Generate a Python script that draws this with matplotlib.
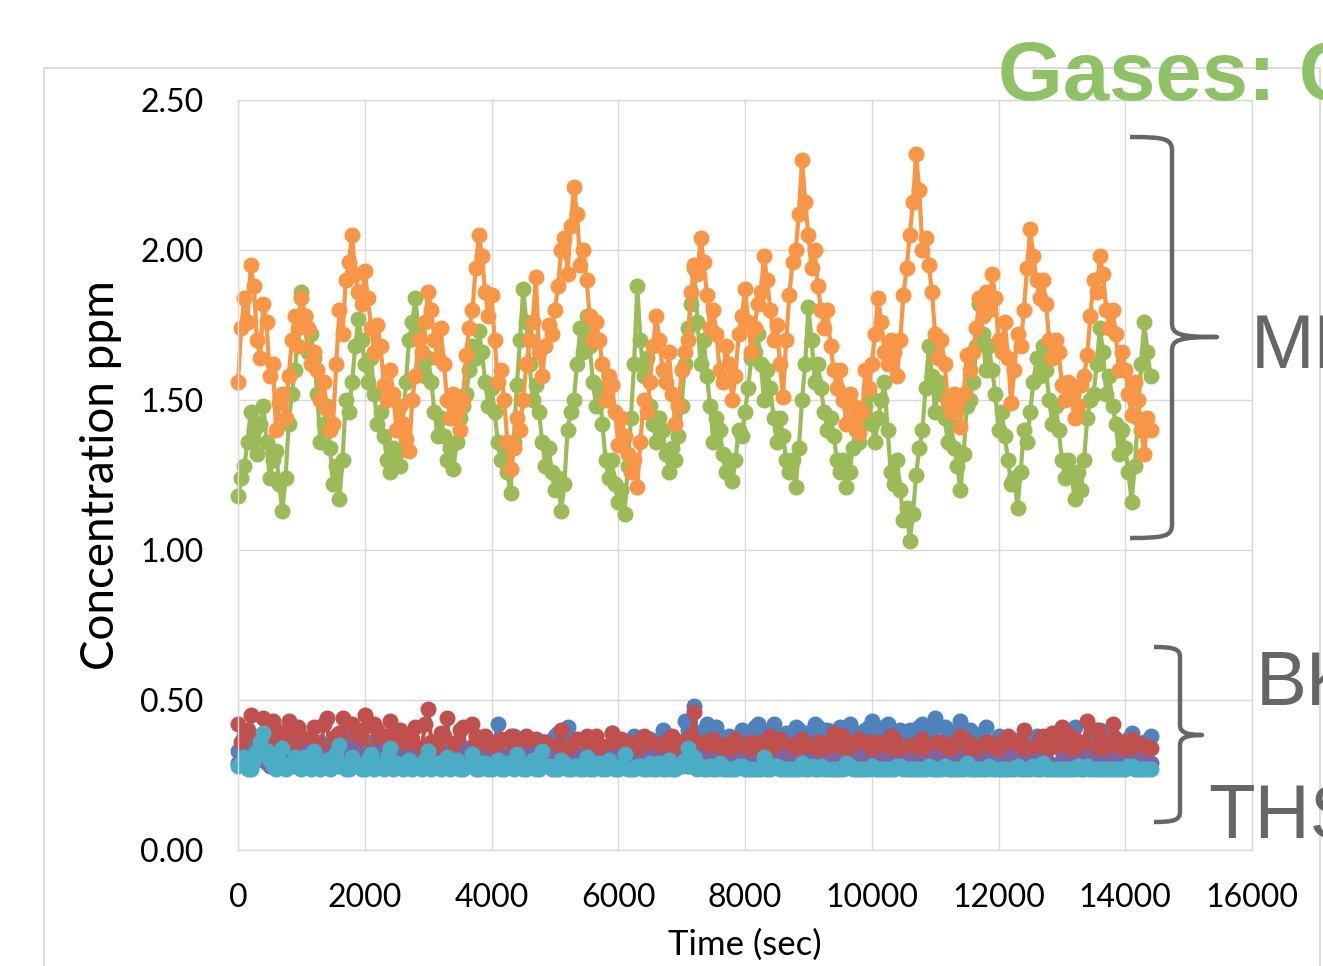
import numpy as np
import matplotlib
matplotlib.use("Agg")
import matplotlib.pyplot as plt
import matplotlib.patches as patches
from matplotlib.path import Path

# readings every 100 s, plus the in-between readings at 50, 150, ... s
time_s = list(range(0, 14401, 100))
time_mid_s = list(range(50, 14400, 100))

# values (ppm)
orange = [1.56, 1.84, 1.95, 1.70, 1.82, 1.58, 1.40, 1.52, 1.58, 1.78,
          1.84, 1.74, 1.66, 1.50, 1.47, 1.42, 1.80, 1.90, 2.05, 1.86,
          1.93, 1.74, 1.75, 1.55, 1.60, 1.40, 1.42, 1.33, 1.58, 1.66,
          1.86, 1.70, 1.74, 1.50, 1.52, 1.40, 1.65, 1.80, 2.05, 1.86,
          1.85, 1.56, 1.50, 1.27, 1.44, 1.50, 1.70, 1.91, 1.58, 1.75,
          1.80, 2.00, 1.92, 2.21, 1.95, 1.90, 1.70, 1.70, 1.50, 1.55,
          1.35, 1.38, 1.26, 1.21, 1.50, 1.56, 1.78, 1.60, 1.66, 1.42,
          1.60, 1.70, 1.95, 2.04, 1.85, 1.80, 1.60, 1.68, 1.50, 1.72,
          1.87, 1.66, 1.82, 1.98, 1.80, 1.75, 1.51, 1.85, 2.00, 2.30,
          2.05, 2.00, 1.80, 1.80, 1.60, 1.60, 1.42, 1.48, 1.39, 1.60,
          1.62, 1.84, 1.66, 1.70, 1.58, 1.85, 2.05, 2.32, 2.00, 1.95,
          1.72, 1.70, 1.50, 1.52, 1.41, 1.65, 1.66, 1.84, 1.86, 1.92,
          1.70, 1.76, 1.49, 1.72, 1.80, 2.07, 1.90, 1.90, 1.70, 1.70,
          1.55, 1.56, 1.44, 1.55, 1.65, 1.90, 1.98, 1.80, 1.80, 1.60,
          1.60, 1.45, 1.50, 1.32, 1.40]
orange_mid = [1.74, 1.76, 1.88, 1.64, 1.76, 1.62, 1.49, 1.44, 1.70, 1.68,
              1.78, 1.62, 1.60, 1.56, 1.40, 1.62, 1.72, 1.96, 1.92, 1.82,
              1.84, 1.66, 1.68, 1.50, 1.52, 1.48, 1.37, 1.50, 1.70, 1.76,
              1.80, 1.64, 1.62, 1.44, 1.46, 1.50, 1.74, 1.94, 1.98, 1.78,
              1.70, 1.60, 1.36, 1.34, 1.40, 1.62, 1.76, 1.66, 1.68, 1.72,
              1.88, 2.04, 2.08, 2.12, 2.00, 1.78, 1.76, 1.62, 1.58, 1.46,
              1.44, 1.32, 1.30, 1.36, 1.46, 1.68, 1.70, 1.56, 1.52, 1.48,
              1.66, 1.86, 1.92, 1.96, 1.74, 1.72, 1.56, 1.62, 1.58, 1.78,
              1.76, 1.74, 1.86, 1.90, 1.70, 1.62, 1.70, 1.96, 2.12, 2.16,
              1.94, 1.88, 1.74, 1.68, 1.54, 1.50, 1.52, 1.44, 1.46, 1.54,
              1.72, 1.76, 1.62, 1.66, 1.70, 1.94, 2.16, 2.20, 2.04, 1.86,
              1.64, 1.62, 1.46, 1.50, 1.52, 1.60, 1.74, 1.78, 1.80, 1.84,
              1.66, 1.64, 1.60, 1.68, 1.94, 1.98, 1.84, 1.82, 1.64, 1.66,
              1.50, 1.52, 1.48, 1.58, 1.78, 1.86, 1.92, 1.74, 1.72, 1.66,
              1.52, 1.56, 1.40, 1.44]

green = [1.18, 1.28, 1.46, 1.32, 1.48, 1.24, 1.33, 1.13, 1.42, 1.60,
         1.86, 1.66, 1.64, 1.36, 1.48, 1.22, 1.17, 1.50, 1.56, 1.77,
         1.62, 1.64, 1.42, 1.38, 1.26, 1.32, 1.42, 1.70, 1.84, 1.62,
         1.64, 1.46, 1.44, 1.30, 1.27, 1.44, 1.52, 1.68, 1.73, 1.56,
         1.54, 1.36, 1.34, 1.19, 1.55, 1.87, 1.62, 1.55, 1.36, 1.34,
         1.20, 1.13, 1.40, 1.50, 1.74, 1.78, 1.56, 1.54, 1.30, 1.30,
         1.16, 1.12, 1.44, 1.88, 1.58, 1.48, 1.36, 1.40, 1.26, 1.30,
         1.48, 1.74, 1.94, 1.62, 1.58, 1.36, 1.40, 1.26, 1.23, 1.40,
         1.46, 1.64, 1.72, 1.50, 1.54, 1.36, 1.38, 1.26, 1.21, 1.50,
         1.81, 1.56, 1.54, 1.40, 1.38, 1.26, 1.21, 1.34, 1.36, 1.48,
         1.42, 1.44, 1.56, 1.26, 1.30, 1.10, 1.03, 1.25, 1.40, 1.68,
         1.46, 1.52, 1.36, 1.34, 1.20, 1.48, 1.56, 1.82, 1.60, 1.60,
         1.40, 1.38, 1.22, 1.14, 1.40, 1.46, 1.64, 1.68, 1.50, 1.48,
         1.30, 1.30, 1.17, 1.20, 1.44, 1.52, 1.74, 1.52, 1.48, 1.32,
         1.34, 1.16, 1.44, 1.76, 1.58]
green_mid = [1.24, 1.36, 1.40, 1.42, 1.36, 1.30, 1.22, 1.24, 1.52, 1.74,
             1.78, 1.72, 1.52, 1.42, 1.34, 1.28, 1.30, 1.46, 1.68, 1.70,
             1.56, 1.52, 1.46, 1.30, 1.34, 1.28, 1.56, 1.76, 1.72, 1.58,
             1.56, 1.38, 1.38, 1.34, 1.36, 1.48, 1.60, 1.64, 1.66, 1.48,
             1.46, 1.30, 1.26, 1.36, 1.70, 1.76, 1.50, 1.46, 1.28, 1.26,
             1.24, 1.22, 1.46, 1.62, 1.66, 1.68, 1.48, 1.42, 1.24, 1.22,
             1.20, 1.28, 1.62, 1.70, 1.64, 1.42, 1.44, 1.32, 1.34, 1.38,
             1.62, 1.82, 1.76, 1.70, 1.48, 1.44, 1.32, 1.30, 1.30, 1.38,
             1.54, 1.66, 1.62, 1.60, 1.44, 1.44, 1.30, 1.30, 1.34, 1.62,
             1.70, 1.62, 1.46, 1.44, 1.30, 1.30, 1.26, 1.40, 1.42, 1.52,
             1.36, 1.50, 1.40, 1.22, 1.20, 1.14, 1.12, 1.34, 1.54, 1.58,
             1.56, 1.44, 1.42, 1.28, 1.32, 1.50, 1.68, 1.72, 1.68, 1.52,
             1.46, 1.30, 1.24, 1.26, 1.36, 1.56, 1.58, 1.60, 1.42, 1.40,
             1.24, 1.26, 1.26, 1.30, 1.50, 1.62, 1.66, 1.58, 1.42, 1.40,
             1.26, 1.28, 1.62, 1.66]

red = [0.42, 0.30, 0.45, 0.33, 0.44, 0.31, 0.40, 0.36, 0.43, 0.30,
       0.38, 0.34, 0.41, 0.30, 0.44, 0.35, 0.39, 0.31, 0.42, 0.37,
       0.45, 0.30, 0.40, 0.33, 0.43, 0.36, 0.38, 0.30, 0.41, 0.34,
       0.47, 0.31, 0.39, 0.44, 0.33, 0.40, 0.30, 0.42, 0.35, 0.38,
       0.31, 0.36, 0.30, 0.38, 0.33, 0.35, 0.29, 0.37, 0.31, 0.34,
       0.30, 0.40, 0.32, 0.36, 0.29, 0.38, 0.33, 0.35, 0.30, 0.39,
       0.31, 0.34, 0.36, 0.30, 0.38, 0.32, 0.35, 0.29, 0.37, 0.33,
       0.36, 0.31, 0.46, 0.34, 0.30, 0.37, 0.32, 0.35, 0.29, 0.33,
       0.31, 0.36, 0.30, 0.34, 0.38, 0.31, 0.35, 0.29, 0.33, 0.37,
       0.30, 0.34, 0.31, 0.36, 0.39, 0.32, 0.35, 0.30, 0.37, 0.33,
       0.29, 0.36, 0.31, 0.38, 0.34, 0.30, 0.35, 0.32, 0.37, 0.29,
       0.34, 0.36, 0.31, 0.33, 0.38, 0.30, 0.35, 0.32, 0.36, 0.29,
       0.34, 0.37, 0.31, 0.35, 0.40, 0.33, 0.30, 0.38, 0.34, 0.36,
       0.41, 0.32, 0.37, 0.35, 0.43, 0.33, 0.38, 0.36, 0.42, 0.34,
       0.31, 0.37, 0.33, 0.35, 0.34]
red_mid = [0.36, 0.40, 0.31, 0.38, 0.35, 0.43, 0.32, 0.39, 0.34, 0.41,
           0.31, 0.37, 0.35, 0.42, 0.32, 0.38, 0.44, 0.33, 0.36, 0.40,
           0.32, 0.42, 0.35, 0.38, 0.31, 0.40, 0.34, 0.37, 0.30, 0.42,
           0.36, 0.33, 0.38, 0.31, 0.36, 0.41, 0.33, 0.38, 0.32, 0.35,
           0.33, 0.37, 0.31, 0.35, 0.32, 0.38, 0.30, 0.34, 0.36, 0.31,
           0.35, 0.33, 0.30, 0.37, 0.31, 0.34, 0.38, 0.32, 0.35, 0.30,
           0.37, 0.33, 0.31, 0.35, 0.30, 0.36, 0.33, 0.31, 0.38, 0.32,
           0.34, 0.38, 0.31, 0.36, 0.33, 0.30, 0.35, 0.32, 0.37, 0.30,
           0.34, 0.32, 0.36, 0.30, 0.33, 0.37, 0.31, 0.35, 0.32, 0.34,
           0.30, 0.36, 0.33, 0.31, 0.35, 0.38, 0.32, 0.34, 0.30, 0.36,
           0.33, 0.35, 0.31, 0.37, 0.32, 0.34, 0.30, 0.35, 0.33, 0.31,
           0.36, 0.33, 0.35, 0.31, 0.37, 0.32, 0.34, 0.30, 0.36, 0.33,
           0.35, 0.38, 0.32, 0.36, 0.34, 0.31, 0.37, 0.33, 0.39, 0.35,
           0.32, 0.38, 0.34, 0.36, 0.31, 0.40, 0.35, 0.33, 0.37, 0.32,
           0.36, 0.34, 0.35, 0.33]

blue = [0.33, 0.38, 0.30, 0.36, 0.32, 0.35, 0.29, 0.34, 0.31, 0.37,
        0.30, 0.35, 0.32, 0.36, 0.29, 0.33, 0.31, 0.38, 0.30, 0.34,
        0.32, 0.36, 0.29, 0.35, 0.31, 0.33, 0.30, 0.37, 0.32, 0.34,
        0.29, 0.36, 0.33, 0.30, 0.35, 0.31, 0.34, 0.29, 0.36, 0.32,
        0.33, 0.42, 0.31, 0.35, 0.30, 0.37, 0.33, 0.29, 0.36, 0.32,
        0.38, 0.30, 0.41, 0.33, 0.35, 0.29, 0.37, 0.31, 0.34, 0.39,
        0.30, 0.36, 0.32, 0.35, 0.29, 0.37, 0.33, 0.40, 0.31, 0.35,
        0.36, 0.40, 0.48, 0.36, 0.42, 0.33, 0.38, 0.31, 0.36, 0.32,
        0.35, 0.39, 0.42, 0.37, 0.40, 0.34, 0.38, 0.33, 0.41, 0.36,
        0.39, 0.42, 0.35, 0.40, 0.37, 0.41, 0.33, 0.38, 0.36, 0.40,
        0.43, 0.35, 0.41, 0.37, 0.39, 0.34, 0.40, 0.36, 0.42, 0.38,
        0.44, 0.35, 0.40, 0.37, 0.43, 0.34, 0.39, 0.36, 0.41, 0.33,
        0.38, 0.35, 0.37, 0.32, 0.36, 0.34, 0.38, 0.31, 0.35, 0.39,
        0.33, 0.37, 0.41, 0.34, 0.36, 0.32, 0.40, 0.35, 0.38, 0.33,
        0.36, 0.39, 0.34, 0.36, 0.38]
blue_mid = [0.31, 0.34, 0.30, 0.33, 0.29, 0.35, 0.31, 0.32, 0.30, 0.34,
            0.29, 0.33, 0.31, 0.35, 0.30, 0.32, 0.34, 0.29, 0.33, 0.31,
            0.35, 0.30, 0.32, 0.34, 0.29, 0.33, 0.31, 0.36, 0.30, 0.32,
            0.34, 0.29, 0.33, 0.31, 0.35, 0.30, 0.32, 0.34, 0.31, 0.33,
            0.36, 0.33, 0.31, 0.38, 0.32, 0.35, 0.30, 0.34, 0.36, 0.31,
            0.39, 0.33, 0.30, 0.35, 0.32, 0.37, 0.31, 0.34, 0.30, 0.36,
            0.33, 0.31, 0.38, 0.32, 0.35, 0.30, 0.34, 0.37, 0.32, 0.35,
            0.43, 0.39, 0.37, 0.40, 0.35, 0.41, 0.34, 0.38, 0.35, 0.40,
            0.37, 0.41, 0.38, 0.35, 0.42, 0.37, 0.39, 0.34, 0.40, 0.38,
            0.36, 0.41, 0.38, 0.35, 0.40, 0.37, 0.42, 0.39, 0.36, 0.41,
            0.38, 0.35, 0.42, 0.37, 0.40, 0.36, 0.39, 0.41, 0.37, 0.40,
            0.36, 0.41, 0.35, 0.39, 0.37, 0.40, 0.34, 0.38, 0.36, 0.35,
            0.33, 0.36, 0.34, 0.37, 0.32, 0.35, 0.37, 0.33, 0.36, 0.38,
            0.34, 0.37, 0.35, 0.33, 0.38, 0.36, 0.34, 0.37, 0.35, 0.33,
            0.37, 0.35, 0.34, 0.36]

purple = [0.29, 0.31, 0.28, 0.33, 0.30, 0.28, 0.32, 0.29, 0.31, 0.28,
          0.30, 0.33, 0.28, 0.31, 0.29, 0.32, 0.28, 0.30, 0.34, 0.29,
          0.31, 0.28, 0.33, 0.30, 0.28, 0.32, 0.29, 0.31, 0.28, 0.30,
          0.32, 0.29, 0.28, 0.31, 0.30, 0.28, 0.33, 0.29, 0.31, 0.28,
          0.30, 0.28, 0.31, 0.29, 0.28, 0.30, 0.32, 0.28, 0.29, 0.31,
          0.28, 0.30, 0.29, 0.28, 0.31, 0.28, 0.30, 0.29, 0.28, 0.31,
          0.29, 0.28, 0.30, 0.28, 0.29, 0.31, 0.28, 0.30, 0.28, 0.29,
          0.30, 0.28, 0.29, 0.31, 0.28, 0.30, 0.28, 0.29, 0.28, 0.30,
          0.28, 0.29, 0.28, 0.30, 0.28, 0.29, 0.31, 0.28, 0.29, 0.28,
          0.30, 0.28, 0.29, 0.28, 0.30, 0.28, 0.29, 0.28, 0.31, 0.28,
          0.29, 0.28, 0.30, 0.28, 0.29, 0.28, 0.30, 0.28, 0.29, 0.28,
          0.31, 0.28, 0.29, 0.28, 0.30, 0.28, 0.29, 0.28, 0.30, 0.28,
          0.29, 0.28, 0.31, 0.28, 0.29, 0.28, 0.30, 0.28, 0.29, 0.28,
          0.30, 0.28, 0.29, 0.28, 0.31, 0.28, 0.29, 0.28, 0.30, 0.28,
          0.29, 0.28, 0.30, 0.28, 0.29]

cyan = [0.28, 0.31, 0.27, 0.33, 0.39, 0.30, 0.27, 0.34, 0.28, 0.31,
        0.27, 0.29, 0.33, 0.27, 0.30, 0.28, 0.35, 0.27, 0.31, 0.28,
        0.27, 0.32, 0.28, 0.27, 0.34, 0.29, 0.27, 0.30, 0.28, 0.27,
        0.33, 0.28, 0.27, 0.31, 0.29, 0.27, 0.28, 0.32, 0.27, 0.29,
        0.27, 0.30, 0.27, 0.28, 0.32, 0.27, 0.29, 0.27, 0.33, 0.28,
        0.27, 0.30, 0.27, 0.28, 0.27, 0.31, 0.27, 0.29, 0.27, 0.28,
        0.27, 0.32, 0.27, 0.28, 0.27, 0.29, 0.27, 0.27, 0.30, 0.27,
        0.28, 0.34, 0.31, 0.28, 0.27, 0.27, 0.29, 0.27, 0.27, 0.28,
        0.27, 0.27, 0.27, 0.31, 0.27, 0.28, 0.27, 0.27, 0.27, 0.29,
        0.27, 0.27, 0.28, 0.27, 0.27, 0.27, 0.29, 0.27, 0.27, 0.27,
        0.28, 0.27, 0.27, 0.27, 0.28, 0.27, 0.27, 0.27, 0.27, 0.28,
        0.27, 0.27, 0.27, 0.27, 0.27, 0.29, 0.27, 0.27, 0.27, 0.27,
        0.27, 0.27, 0.27, 0.28, 0.27, 0.27, 0.27, 0.29, 0.27, 0.27,
        0.27, 0.27, 0.27, 0.27, 0.28, 0.27, 0.27, 0.27, 0.27, 0.27,
        0.27, 0.28, 0.27, 0.27, 0.27]
cyan_mid = [0.29, 0.27, 0.30, 0.36, 0.33, 0.28, 0.30, 0.27, 0.29, 0.28,
            0.31, 0.27, 0.28, 0.29, 0.27, 0.32, 0.28, 0.27, 0.29, 0.27,
            0.30, 0.27, 0.28, 0.31, 0.27, 0.28, 0.29, 0.27, 0.28, 0.30,
            0.27, 0.29, 0.28, 0.27, 0.30, 0.27, 0.28, 0.27, 0.29, 0.27,
            0.28, 0.27, 0.29, 0.27, 0.28, 0.27, 0.30, 0.27, 0.28, 0.27,
            0.27, 0.29, 0.27, 0.28, 0.27, 0.27, 0.28, 0.27, 0.30, 0.27,
            0.28, 0.27, 0.27, 0.28, 0.27, 0.27, 0.29, 0.27, 0.27, 0.28,
            0.30, 0.28, 0.27, 0.27, 0.28, 0.27, 0.27, 0.27, 0.27, 0.28,
            0.27, 0.27, 0.27, 0.27, 0.28, 0.27, 0.27, 0.27, 0.27, 0.27,
            0.28, 0.27, 0.27, 0.27, 0.27, 0.27, 0.28, 0.27, 0.27, 0.27,
            0.27, 0.27, 0.27, 0.27, 0.28, 0.27, 0.27, 0.27, 0.27, 0.27,
            0.27, 0.28, 0.27, 0.27, 0.27, 0.27, 0.27, 0.27, 0.28, 0.27,
            0.27, 0.27, 0.27, 0.27, 0.27, 0.28, 0.27, 0.27, 0.27, 0.27,
            0.27, 0.27, 0.28, 0.27, 0.27, 0.27, 0.27, 0.27, 0.27, 0.27,
            0.28, 0.27, 0.27, 0.27]

x_ticks = list(range(0, 16001, 2000))
y_ticks = [0.0, 0.5, 1.0, 1.5, 2.0, 2.5]


def merge(main, mid):
    # put the 100 s readings and the in-between readings in time order
    t = np.array(time_s + time_mid_s)
    v = np.array(main + mid)
    order = np.argsort(t, kind='stable')
    return t[order], v[order]


# draw order matters: later series sit on top
series = [(merge(blue, blue_mid), '#4F81BD'),
          (merge(red, red_mid), '#C0504D'),
          (merge(green, green_mid), '#9BBB59'),
          ((np.array(time_s), np.array(purple)), '#8064A2'),
          (merge(cyan, cyan_mid), '#4BACC6'),
          (merge(orange, orange_mid), '#F79646')]

W, H = 1323, 966
fig = plt.figure(figsize=(W / 100, H / 100), dpi=100)
fig.patch.set_facecolor('white')

ax = fig.add_axes([238 / W, 1 - 850 / H, (1252 - 238) / W, 750 / H])
for (t, v), col in series:
    ax.plot(t, v, color=col, lw=3.0, marker='o', ms=10.5,
            mec=col, mfc=col, clip_on=False)

ax.set_xlim(0, 16000)
ax.set_ylim(0, 2.5)
ax.set_xticks(x_ticks)
ax.set_yticks(y_ticks)
ax.set_yticklabels([f"{v:.2f}" for v in y_ticks])
ax.grid(color='#D9D9D9', lw=1)
ax.set_axisbelow(True)
for s in ax.spines.values():
    s.set_color('#D9D9D9')
    s.set_linewidth(1)
ax.tick_params(length=0, labelsize=23, colors='black')
ax.tick_params(axis='x', pad=24)
ax.tick_params(axis='y', pad=25)
for lab in ax.get_xticklabels() + ax.get_yticklabels():
    lab.set_family('Lato')

ax.set_xlabel('Time (sec)', fontsize=25, family='Lato')
ax.xaxis.set_label_coords(0.5, -0.105)
ax.set_ylabel('Concentration ppm', fontsize=33, family='Lato')
ax.yaxis.set_label_coords(-0.114, 0.5)

# overlay in pixel coordinates for slide decorations
ov = fig.add_axes([0, 0, 1, 1], zorder=5)
ov.set_xlim(0, W)
ov.set_ylim(H, 0)
ov.axis('off')

ov.add_patch(patches.Rectangle((44, 68), 1320 - 44, H, fill=False,
                               ec='#D9D9D9', lw=1.3, clip_on=False))


def brace(x_arm, x_v, x_tip, y_top, y_mid, y_bot, r=14):
    verts = [(x_arm, y_top), (x_v - 6, y_top), (x_v, y_top + 2), (x_v, y_top + r),
             (x_v, y_mid - r), (x_v, y_mid - 3), (x_v + 6, y_mid), (x_tip, y_mid),
             (x_v + 6, y_mid), (x_v, y_mid + 3), (x_v, y_mid + r),
             (x_v, y_bot - r), (x_v, y_bot - 2), (x_v - 6, y_bot), (x_arm, y_bot)]
    codes = [Path.MOVETO, Path.CURVE4, Path.CURVE4, Path.CURVE4,
             Path.LINETO, Path.CURVE4, Path.CURVE4, Path.CURVE4,
             Path.CURVE4, Path.CURVE4, Path.CURVE4,
             Path.LINETO, Path.CURVE4, Path.CURVE4, Path.CURVE4]
    ov.add_patch(patches.PathPatch(Path(verts, codes), fill=False,
                                   ec='#666666', lw=3.2, capstyle='butt',
                                   joinstyle='round'))


brace(1130, 1172, 1217, 137, 337, 538)
brace(1154, 1180, 1202, 647, 735, 822, r=10)

ov.text(998, 100, 'Gases: CH4', color='#8FC266', fontsize=60,
        fontweight='bold', family='Liberation Sans', va='baseline', ha='left')
ov.text(1251, 368, 'MH', color='#666666', fontsize=55,
        family='Liberation Sans', va='baseline', ha='left')
ov.text(1256, 705, 'BK', color='#666666', fontsize=55,
        family='Liberation Sans', va='baseline', ha='left')
ov.text(1208, 838, 'THS', color='#666666', fontsize=55,
        family='Liberation Sans', va='baseline', ha='left')

fig.savefig('out.png', dpi=100)
